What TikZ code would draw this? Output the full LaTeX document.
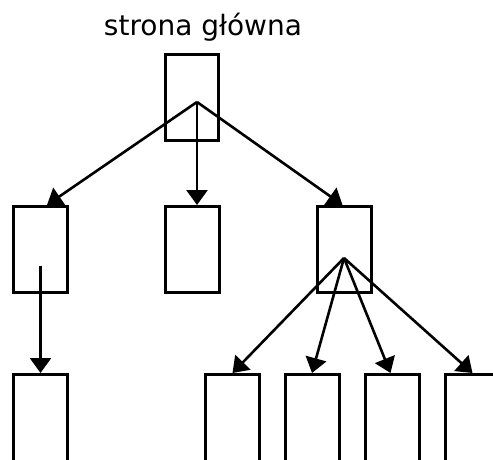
\documentclass[tikz,border=0pt]{standalone}
\usepackage{fontspec}
\setmainfont{DejaVu Sans}
\usetikzlibrary{arrows.meta,calc}
\begin{document}
\begin{tikzpicture}[x=1pt,y=-1pt,
  page/.style={draw,line width=3pt,rectangle,inner sep=0pt,
    minimum width=54pt,minimum height=86pt},
  deep/.style={page,minimum height=100pt},
  link/.style={line width=2.6pt,-{Triangle[length=15pt,width=21pt]}}]
\useasboundingbox (0,0) rectangle (493,460);
\clip (0,0) rectangle (493,460);
% title
\node[anchor=base,font=\fontsize{28}{32}\selectfont,inner sep=0pt] (title) at (203,36) {strona główna};
% home page
\node[page,minimum width=53pt] (home) at (192,97.5) {};
% second level
\node[page] (a) at (40.5,249.5) {};
\node[page] (b) at (192,249.5) {};
\node[page] (c) at (344.5,249.5) {};
% third level, running past the lower edge
\node[deep] (a1) at (40.5,424.5) {};
\node[deep] (c1) at (232.5,424.5) {};
\node[deep] (c2) at (312,424.5) {};
\node[deep] (c3) at (392.5,424.5) {};
\node[deep] (c4) at (472.5,424.5) {};
% link sources inside the boxes
\coordinate (h0) at (197,102);
\coordinate (ha) at (40.5,266);
\coordinate (hc) at (344,258);
% links
\draw[link] (h0) -- ($(a.north)+(6.5,0)$);
\draw[link] (h0) -- (b.north -| h0);
\draw[link] (h0) -- ($(c.north)+(-2,0)$);
\draw[link] (ha) -- (a1.north);
\draw[link] (hc) -- (c1.north);
\draw[link] (hc) -- (c2.north);
\draw[link] (hc) -- ($(c3.north)+(-2,0)$);
\draw[link] (hc) -- (c4.north);
\end{tikzpicture}
\end{document}
